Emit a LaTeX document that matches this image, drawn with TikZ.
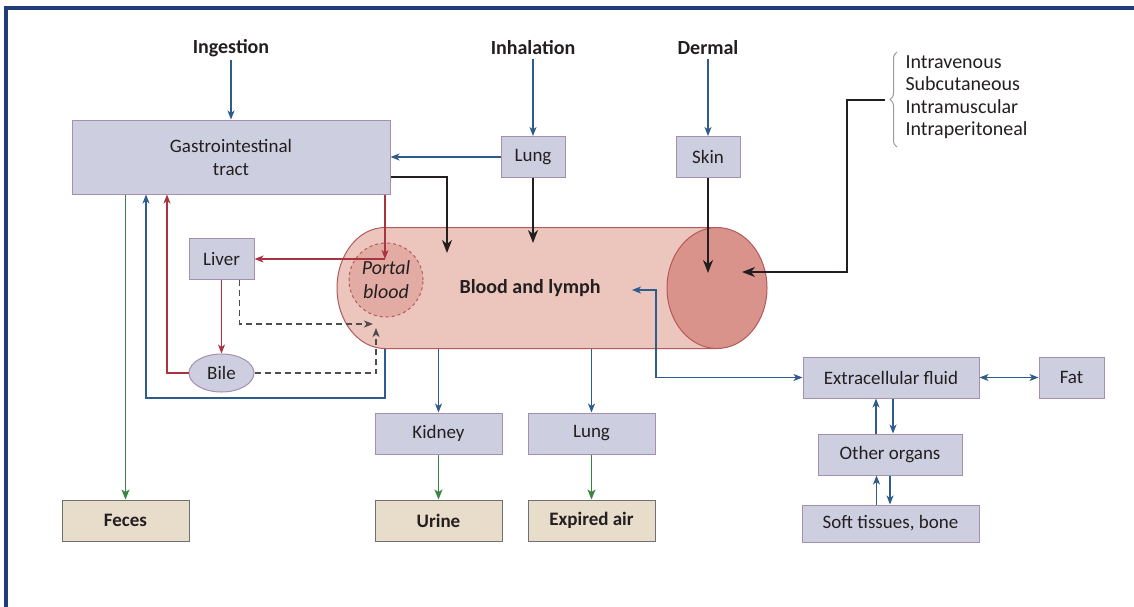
\documentclass[tikz,border=0pt]{standalone}
\usepackage{fontspec}
\setmainfont{Carlito}
\usetikzlibrary{arrows.meta,shapes.geometric,positioning,decorations.pathreplacing}
\definecolor{frameblue}{HTML}{1F3E78}
\definecolor{boxfill}{HTML}{CDCFE0}
\definecolor{boxline}{HTML}{A68FAE}
\definecolor{sinkfill}{HTML}{E8DCCA}
\definecolor{sinkline}{HTML}{707070}
\definecolor{flowblue}{HTML}{2E5C8C}
\definecolor{flowred}{HTML}{A83440}
\definecolor{flowgreen}{HTML}{3C8444}
\definecolor{bloodfill}{HTML}{ECC5BC}
\definecolor{bloodline}{HTML}{B25A5C}
\definecolor{capfill}{HTML}{D9938A}
\definecolor{portalfill}{HTML}{E2ACA4}
\definecolor{ink}{HTML}{231F20}

\begin{document}
\begin{tikzpicture}[x=1pt,y=-1pt,font=\fontsize{19}{23}\selectfont,text=ink,
  organ/.style={draw=boxline,fill=boxfill,line width=1pt,inner sep=0pt,minimum height=41pt},
  sink/.style={draw=sinkline,fill=sinkfill,line width=1pt,inner sep=0pt,minimum width=127pt,
    minimum height=41pt,font=\fontsize{19}{23}\selectfont\bfseries},
  route/.style={font=\fontsize{20}{24}\selectfont\bfseries},
  blu/.style={flowblue,line width=1.2pt,-{Stealth[length=9pt,width=7pt,inset=2.5pt]}},
  bidir/.style={flowblue,line width=1.2pt,{Stealth[length=9pt,width=7pt,inset=2.5pt]}-{Stealth[length=9pt,width=7pt,inset=2.5pt]}},
  rd/.style={flowred,line width=1.2pt,-{Stealth[length=9pt,width=7pt,inset=2.5pt]}},
  grn/.style={flowgreen,line width=1.2pt,-{Stealth[length=10pt,width=8pt,inset=2.5pt]}},
  blk/.style={ink,line width=1.5pt,-{Stealth[length=13pt,width=10pt,inset=4pt]}},
  dsh/.style={ink!80,line width=1.2pt,dash pattern=on 6pt off 4pt,-{Stealth[length=9pt,width=7pt,inset=2.5pt]}}]
\useasboundingbox (0,0) rectangle (1134,606);
\draw[frameblue,line width=3.5pt] (6,620) -- (6,8) -- (1140,8);
% routes of entry
\node[route] (ing) at (231,48) {Ingestion};
\node[route] (inh) at (533,48) {Inhalation};
\node[route] (der) at (708,48) {Dermal};
\node[organ,minimum width=318pt,minimum height=74pt,align=center] (gi) at (231,157) {Gastrointestinal\\tract};
\node[organ,minimum width=64pt] (lungin) at (533,157) {Lung};
\node[organ,minimum width=64pt] (skin) at (708,157) {Skin};
\draw[decorate,decoration={brace,amplitude=7pt},ink!45,line width=1pt] (897,147) -- (897,52);
\node[anchor=west,align=left,font=\fontsize{20}{22.5}\selectfont] (parent) at (902,97) {Intravenous\\Subcutaneous\\Intramuscular\\Intraperitoneal};
\coordinate (tip) at (885,100);
% blood and lymph
\draw[bloodline,fill=bloodfill,line width=1pt] (717,227.5) -- (385,227.5)
  arc[start angle=270,end angle=90,x radius=48,y radius=60.5] -- (717,348.5);
\node[ellipse,draw=bloodline,fill=capfill,line width=1pt,inner sep=0pt,minimum width=100pt,minimum height=121pt] (cap) at (717,288) {};
\node[circle,draw=bloodline,dashed,fill=portalfill,line width=1pt,inner sep=0pt,minimum size=74pt,
  align=center,font=\fontsize{20}{24}\selectfont\itshape] (portal) at (386,280) {Portal\\blood};
\node[font=\fontsize{20}{24}\selectfont\bfseries] (blood) at (530,288) {Blood and lymph};
\coordinate (bgi) at (447,253);
\coordinate (blung) at (533,243);
\coordinate (bskin) at (708,273);
\coordinate (bparent) at (742,272);
\coordinate (pin) at (385,259);
\coordinate (bout) at (385,349);
\coordinate (becf) at (632,290);
\coordinate (djliver) at (373,324);
\coordinate (djbile) at (376,328);
% liver and bile
\node[organ,minimum width=65pt] (liver) at (221.5,259) {Liver};
\node[ellipse,draw=boxline,fill=boxfill,line width=1pt,inner sep=0pt,minimum width=65pt,minimum height=38pt] (bile) at (221.5,373) {Bile};
% distribution and excretion
\node[organ,minimum width=127pt] (kidney) at (438.5,433.5) {Kidney};
\node[organ,minimum width=127pt] (lungout) at (591.5,433.5) {Lung};
\node[sink] (feces) at (125.5,520.5) {Feces};
\node[sink] (urine) at (438.5,520.5) {Urine};
\node[sink] (air) at (591.5,520.5) {Expired air};
\node[organ,minimum width=176pt] (ecf) at (891,377.5) {Extracellular fluid};
\node[organ,minimum width=65pt] (fat) at (1071.5,377.5) {Fat};
\node[organ,minimum width=144pt] (other) at (890,454.5) {Other organs};
\node[organ,minimum width=177pt,minimum height=37pt] (soft) at (890.5,523.5) {Soft tissues, bone};
\draw[blu] (ing) -- (gi);
\draw[blu] (inh) -- (lungin);
\draw[blu] (der) -- (skin);
\draw[blu] (lungin) -- (gi.east |- lungin);
\draw[blk] ([yshift=-20pt]gi.east) -| (bgi);
\draw[blk] (lungin) -- (blung);
\draw[blk] (skin) -- (bskin);
\draw[blk] (tip) -- ++(-38,0) |- (bparent);
\draw[rd] (gi.south -| pin) -- (pin);
\draw[rd] (pin) -- (liver.east);
\draw[rd] (liver) -- (bile);
\draw[rd] (bile.west) -| ([xshift=-64pt]gi.south);
\draw[blu] (bout) -- (385,398) -| ([xshift=-85pt]gi.south);
\draw[grn] (feces.north |- gi.south) -- (feces);
\draw[dsh] ([xshift=18pt]liver.south) |- (djliver);
\draw[dsh] (bile.east) -| (djbile);
\draw[blu] (kidney.north |- bout) -- (kidney);
\draw[blu] (lungout.north |- bout) -- (lungout);
\draw[grn] (kidney) -- (urine);
\draw[grn] (lungout) -- (air);
\draw[bidir] (becf) -- (656,290) |- (ecf.west);
\draw[bidir] (ecf) -- (fat);
\draw[blu] ([xshift=-14pt]other.north) -- ([xshift=-14pt]other.north |- ecf.south);
\draw[blu] ([xshift=2pt]ecf.south) -- ([xshift=2pt]ecf.south |- other.north);
\draw[blu] ([xshift=-14pt]soft.north) -- ([xshift=-14pt]soft.north |- other.south);
\draw[blu] (other.south) -- (other.south |- soft.north);
\end{tikzpicture}
\end{document}
